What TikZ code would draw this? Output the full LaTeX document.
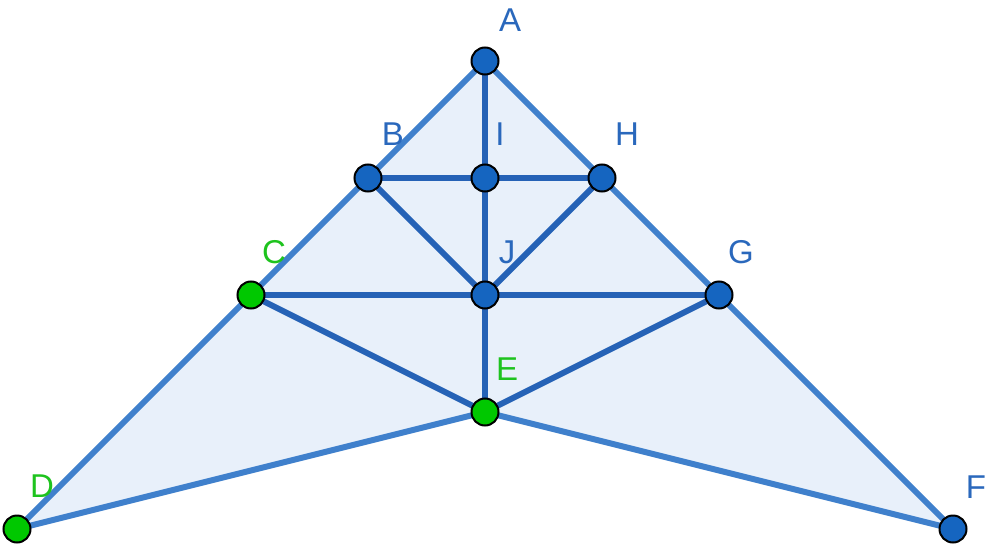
\documentclass[tikz,border=0pt]{standalone}
\usepackage{fontspec}
\setmainfont{Liberation Sans}
\definecolor{outerc}{HTML}{3F80CC}
\definecolor{innerc}{HTML}{2562B6}
\definecolor{fillc}{HTML}{E8F0FA}
\definecolor{ptblue}{HTML}{1565C0}
\definecolor{ptgreen}{HTML}{00C800}
\definecolor{lblblue}{HTML}{2A68BC}
\definecolor{lblgreen}{HTML}{1EC31E}
\tikzset{
  pt/.style={circle,draw=black,line width=2pt,minimum size=27pt,inner sep=0pt},
  bluept/.style={pt,fill=ptblue},
  greenpt/.style={pt,fill=ptgreen},
  lbl/.style={inner sep=0pt,anchor=center,font=\fontsize{33}{35}\selectfont},
  bluelbl/.style={lbl,text=lblblue},
  greenlbl/.style={lbl,text=lblgreen},
  outer/.style={draw=outerc,line width=6pt,line join=round},
  inner/.style={draw=innerc,line width=6pt,line cap=round},
}
\begin{document}
\begin{tikzpicture}[x=1pt,y=-1pt]
\useasboundingbox (0,0) rectangle (985,551);
\coordinate (A) at (485,61);
\coordinate (B) at (368,178);
\coordinate (I) at (485,178);
\coordinate (H) at (602,178);
\coordinate (C) at (251,295);
\coordinate (J) at (485,295);
\coordinate (G) at (719,295);
\coordinate (E) at (485,412);
\coordinate (D) at (17,529);
\coordinate (F) at (953,529);
\fill[fillc] (A) -- (F) -- (E) -- (D) -- cycle;
\draw[inner] (A) -- (E);
\draw[inner] (B) -- (H);
\draw[inner] (C) -- (G);
\draw[inner] (B) -- (J) -- (H);
\draw[inner] (C) -- (E) -- (G);
\draw[outer] (A) -- (F) -- (E) -- (D) -- cycle;
\node[bluelbl] (lA) at (510,20) {A};
\node[bluelbl] (lB) at (393,134) {B};
\node[bluelbl] (lI) at (500,134) {I};
\node[bluelbl] (lH) at (627,134) {H};
\node[greenlbl] (lC) at (274,252) {C};
\node[bluelbl] (lJ) at (507,252) {J};
\node[bluelbl] (lG) at (741,252) {G};
\node[greenlbl] (lE) at (507,369) {E};
\node[greenlbl] (lD) at (42,486) {D};
\node[bluelbl] (lF) at (976,487) {F};
\node[bluept] (pA) at (A) {};
\node[bluept] (pB) at (B) {};
\node[bluept] (pI) at (I) {};
\node[bluept] (pH) at (H) {};
\node[greenpt] (pC) at (C) {};
\node[bluept] (pJ) at (J) {};
\node[bluept] (pG) at (G) {};
\node[greenpt] (pE) at (E) {};
\node[greenpt] (pD) at (D) {};
\node[bluept] (pF) at (F) {};
\end{tikzpicture}
\end{document}
